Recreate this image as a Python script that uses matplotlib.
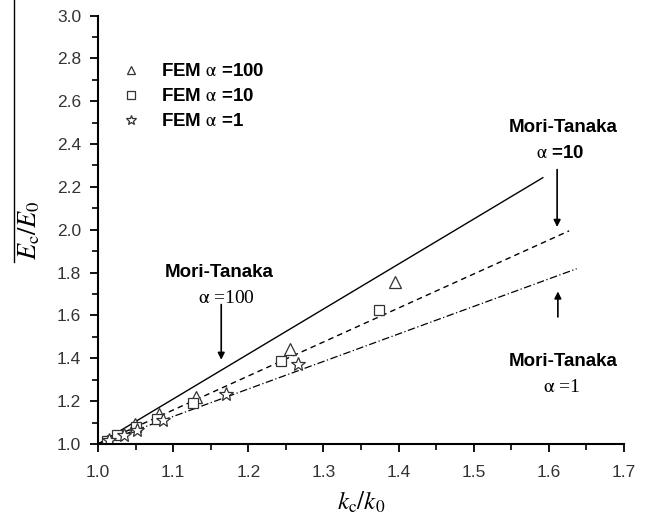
import matplotlib
matplotlib.use("Agg")
import matplotlib.pyplot as plt
from matplotlib.lines import Line2D
from matplotlib.ticker import MultipleLocator

plt.rcParams['font.family'] = ['Liberation Sans', 'DejaVu Sans']
plt.rcParams['mathtext.fontset'] = 'stix'

# Mori-Tanaka predictions (straight lines, end points)
mt100_x = [1.0, 1.592]
mt100_y = [1.0, 2.243]
mt10_x = [1.0, 1.627]
mt10_y = [1.0, 1.995]
mt1_x = [1.0, 1.637]
mt1_y = [1.0, 1.818]

# FEM results
fem100_x = [1.012, 1.049, 1.081, 1.131, 1.2555, 1.395]
fem100_y = [1.012, 1.093, 1.139, 1.220, 1.445, 1.757]
fem10_x = [1.012, 1.025, 1.050, 1.078, 1.126, 1.2435, 1.374]
fem10_y = [1.015, 1.041, 1.081, 1.117, 1.193, 1.388, 1.626]
fem1_x = [1.015, 1.034, 1.052, 1.087, 1.170, 1.2666]
fem1_y = [1.020, 1.042, 1.065, 1.112, 1.234, 1.374]

fig = plt.figure(figsize=(6.46, 5.21), dpi=100)
ax = fig.add_axes([98 / 646, 1 - 444 / 521, 526 / 646, 428.5 / 521])

ax.plot(mt100_x, mt100_y, color='black', lw=1.0, ls='-')
ax.plot(mt10_x, mt10_y, color='black', lw=1.0, ls=(0, (4, 3)))
ax.plot(mt1_x, mt1_y, color='black', lw=0.9, ls=(0, (6, 2, 1, 2)))

mk = dict(ls='none', mfc='white', mec='#333333', mew=0.9)
ax.plot(fem100_x, fem100_y, marker='^', ms=8, label=r'FEM $\mathrm{\alpha}$ =100', **mk)
ax.plot(fem10_x, fem10_y, marker='s', ms=7, label=r'FEM $\mathrm{\alpha}$ =10', **mk)
ax.plot(fem1_x, fem1_y, marker='*', ms=10, label=r'FEM $\mathrm{\alpha}$ =1', **mk)

ax.set_xlim(1.0, 1.7)
ax.set_ylim(1.0, 3.0)
ax.xaxis.set_major_locator(MultipleLocator(0.1))
ax.xaxis.set_minor_locator(MultipleLocator(0.05))
ax.yaxis.set_major_locator(MultipleLocator(0.2))
ax.yaxis.set_minor_locator(MultipleLocator(0.1))
ax.tick_params(which='major', direction='out', length=6, width=1.3,
               labelsize=12.5, labelcolor='#333333', pad=6)
ax.tick_params(axis='x', which='major', pad=9)
ax.tick_params(which='minor', direction='out', length=4, width=1.2)
for s in ['top', 'right']:
    ax.spines[s].set_visible(False)
for s in ['left', 'bottom']:
    ax.spines[s].set_linewidth(1.5)

leg = ax.legend(loc='upper left', bbox_to_anchor=(-0.005, 0.928), frameon=False,
                prop={'weight': 'bold', 'size': 13.5}, handletextpad=0.6,
                labelspacing=0.42, markerscale=0.75, handlelength=2.0)

ax.set_xlabel(r'$k_\mathrm{c}/k_\mathrm{0}$', fontsize=18, labelpad=7)
ax.set_ylabel(r'$E_\mathrm{c}/E_\mathrm{0}$', fontsize=19, labelpad=11)

txt = dict(ha='center', va='center', fontsize=13.5, fontweight='bold')

ax.text(1.161, 1.80, 'Mori-Tanaka', **txt)
ax.text(1.171, 1.68, r'$\mathrm{\alpha}$ =100', ha='center', va='center', fontsize=14,
        family='Liberation Serif')
ax.annotate('', xy=(1.164, 1.38), xytext=(1.164, 1.664),
            arrowprops=dict(arrowstyle='-|>', color='black', lw=1.2, mutation_scale=10))

ax.text(1.619, 2.475, 'Mori-Tanaka', **txt)
ax.text(1.615, 2.355, r'$\mathrm{\alpha}$ =10', ha='center', va='center', fontsize=13.5,
        fontweight='bold')
ax.annotate('', xy=(1.611, 2.0), xytext=(1.611, 2.294),
            arrowprops=dict(arrowstyle='-|>', color='black', lw=1.2, mutation_scale=10))

ax.text(1.619, 1.383, 'Mori-Tanaka', **txt)
ax.text(1.617, 1.266, r'$\mathrm{\alpha}$ =1', ha='center', va='center', fontsize=14,
        family='Liberation Serif')
ax.annotate('', xy=(1.612, 1.725), xytext=(1.612, 1.58),
            arrowprops=dict(arrowstyle='-|>', color='black', lw=1.2, mutation_scale=10))

fig.add_artist(Line2D([14 / 646, 14 / 646], [1.0, 1 - 262 / 521],
                      transform=fig.transFigure, color='black', lw=1.0))

fig.savefig('out.png', dpi=100)
